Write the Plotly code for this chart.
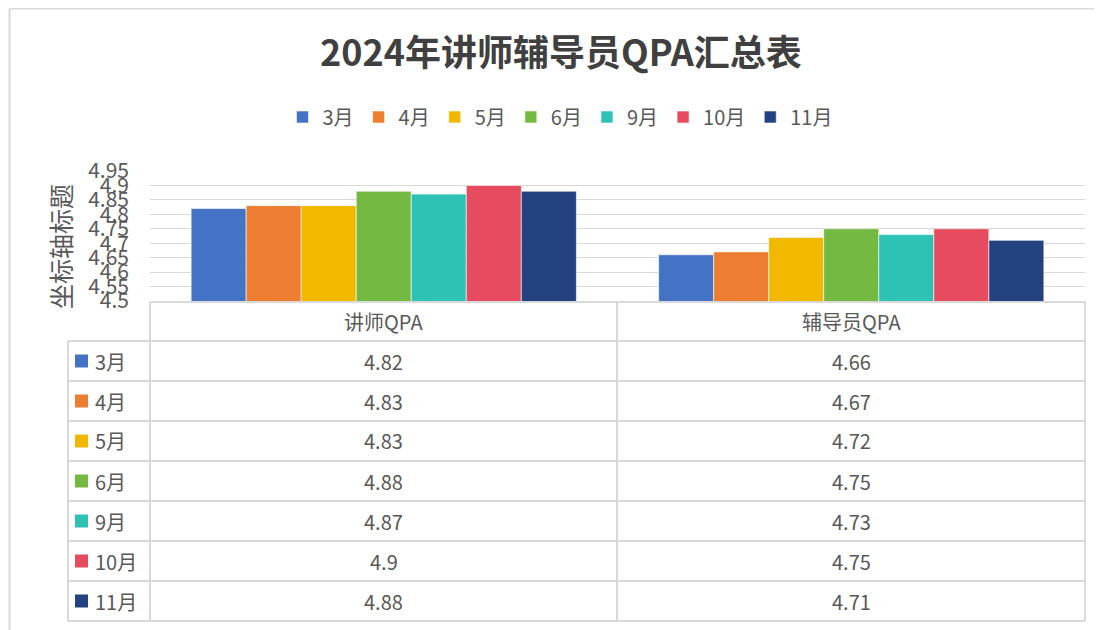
import plotly.graph_objects as go

# ---------------- data ----------------
categories = ["讲师QPA", "辅导员QPA"]
months = ["3月", "4月", "5月", "6月", "9月", "10月", "11月"]
lecturer_qpa = [4.82, 4.83, 4.83, 4.88, 4.87, 4.9, 4.88]
counselor_qpa = [4.66, 4.67, 4.72, 4.75, 4.73, 4.75, 4.71]
y_ticks = [4.5, 4.55, 4.6, 4.65, 4.7, 4.75, 4.8, 4.85, 4.9, 4.95]
y_tick_labels = ["4.5", "4.55", "4.6", "4.65", "4.7", "4.75", "4.8", "4.85", "4.9", "4.95"]
title_text = "2024年讲师辅导员QPA汇总表"
axis_title = "坐标轴标题"

# ---------------- style ----------------
colors = ["#4472C4", "#ED7D31", "#F2B800", "#74B941", "#2EC2B4", "#E74B5F", "#23427F"]
FONT = "Noto Sans CJK SC, sans-serif"
TXT = "#595959"
GRID = "#d9d9d9"

OFF = 8  # page body margin
W, H = 1102 - OFF, 630 - OFF
# plot area in screen pixels: x 150..1085, y 171..301
L = 150 - OFF
R = W - (1085 - OFF)
T = 171 - OFF
B = H - (301 - OFF)
PW, PH = W - L - R, H - T - B


def px(x):
    return (x - OFF - L) / PW


def py(y):
    return (H - B - (y - OFF)) / PH


fig = go.Figure()
for i, m in enumerate(months):
    fig.add_trace(go.Bar(
        x=categories,
        y=[lecturer_qpa[i], counselor_qpa[i]],
        name=m,
        marker=dict(color=colors[i], line=dict(color="white", width=0.6)),
    ))

shapes = []
annotations = []

# outer frame
shapes.append(dict(type="line", xref="paper", yref="paper", x0=px(9.5), x1=px(9.5), y0=py(8.5), y1=py(640),
                   line=dict(color=GRID, width=2)))
shapes.append(dict(type="line", xref="paper", yref="paper", x0=px(9.5), x1=px(1110), y0=py(8.5), y1=py(8.5),
                   line=dict(color=GRID, width=2)))

# data table geometry
col_x = [150, 617, 1085]
label_x0 = 68
head_top = 302
row_top = 341
row_h = 40
n_rows = len(months)
bottom = row_top + row_h * n_rows

shapes.append(dict(type="line", xref="paper", yref="paper", x0=px(col_x[0]), x1=px(col_x[-1]),
                   y0=py(head_top), y1=py(head_top), line=dict(color=GRID, width=2)))
for r in range(n_rows + 1):
    yy = row_top + r * row_h
    shapes.append(dict(type="line", xref="paper", yref="paper", x0=px(label_x0), x1=px(col_x[-1]),
                       y0=py(yy), y1=py(yy), line=dict(color=GRID, width=2)))
shapes.append(dict(type="line", xref="paper", yref="paper", x0=px(label_x0), x1=px(label_x0),
                   y0=py(row_top), y1=py(bottom), line=dict(color=GRID, width=2)))
for cx in col_x:
    shapes.append(dict(type="line", xref="paper", yref="paper", x0=px(cx), x1=px(cx),
                       y0=py(head_top), y1=py(bottom), line=dict(color=GRID, width=2)))

for j, c in enumerate(categories):
    annotations.append(dict(xref="paper", yref="paper", x=px((col_x[j] + col_x[j + 1]) / 2),
                            y=py((head_top + row_top) / 2), text=c, showarrow=False,
                            xanchor="center", yanchor="middle", font=dict(family=FONT, size=20, color=TXT)))

series = [lecturer_qpa, counselor_qpa]
for r, m in enumerate(months):
    cy = row_top + r * row_h + row_h / 2
    shapes.append(dict(type="rect", xref="paper", yref="paper", x0=px(75), x1=px(88),
                       y0=py(cy - 6.5), y1=py(cy + 6.5), fillcolor=colors[r], line=dict(width=0)))
    annotations.append(dict(xref="paper", yref="paper", x=px(93), y=py(cy), text=m, showarrow=False,
                            xanchor="left", yanchor="middle", font=dict(family=FONT, size=20, color=TXT)))
    for j in range(len(categories)):
        annotations.append(dict(xref="paper", yref="paper", x=px((col_x[j] + col_x[j + 1]) / 2), y=py(cy),
                                text=f"{series[j][r]:g}", showarrow=False, xanchor="center", yanchor="middle",
                                font=dict(family=FONT, size=20, color=TXT)))

annotations.append(dict(xref="paper", yref="paper", x=px(60), y=py(247), text=axis_title, textangle=-90,
                        showarrow=False, xanchor="center", yanchor="middle",
                        font=dict(family=FONT, size=25, color=TXT)))

fig.update_layout(
    width=W, height=H,
    margin=dict(l=L, r=R, t=T, b=B, pad=0),
    paper_bgcolor="white", plot_bgcolor="white",
    title=dict(text=f"<b>{title_text}</b>", x=(561 - OFF) / W, xanchor="center",
               y=1 - (53 - OFF) / H, yanchor="middle",
               font=dict(family=FONT, size=36, color="#404040")),
    barmode="group", bargap=0.176, bargroupgap=0,
    showlegend=True,
    legend=dict(orientation="h", x=px(560), xanchor="center", y=py(117), yanchor="middle",
                font=dict(family=FONT, size=20, color=TXT), bgcolor="rgba(0,0,0,0)", traceorder="normal",
                itemwidth=30),
    xaxis=dict(showticklabels=False, showline=False, showgrid=False, zeroline=False, ticks=""),
    yaxis=dict(range=[4.5, 4.95], tickmode="array", tickvals=y_ticks, ticktext=y_tick_labels,
               showgrid=True, gridcolor=GRID, gridwidth=1.3, zeroline=False, showline=False, ticks="",
               ticklabelstandoff=20, tickfont=dict(family=FONT, size=21, color=TXT)),
    shapes=shapes, annotations=annotations,
)

fig.write_html("out.html")
